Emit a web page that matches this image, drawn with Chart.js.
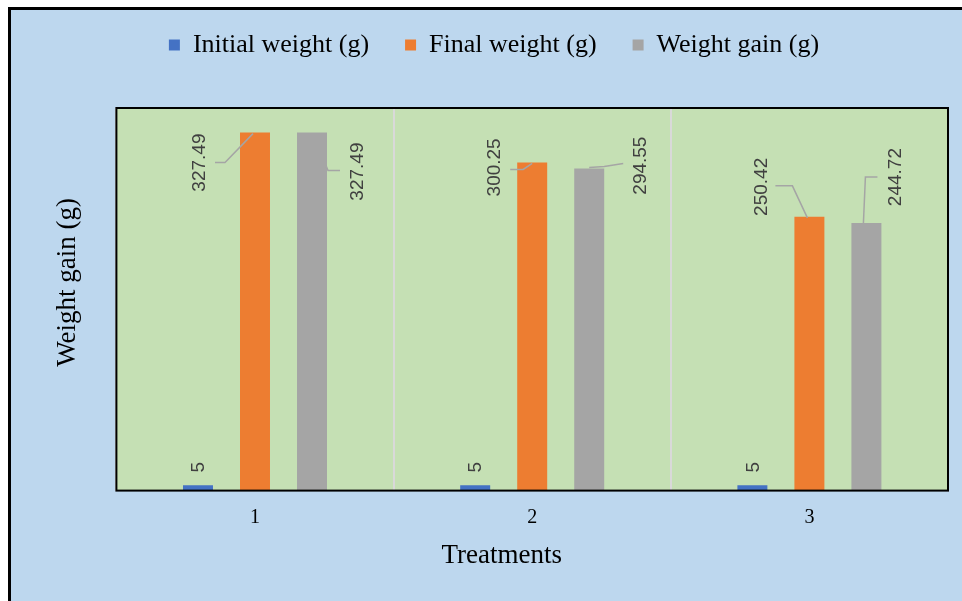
<!DOCTYPE html>
<html>
<head>
<meta charset="utf-8">
<script src="https://cdn.jsdelivr.net/npm/chart.js@4"></script>
<style>
  html, body { margin: 0; padding: 0; background: #ffffff; }
  #wrap { width: 962px; height: 601px; }
</style>
</head>
<body>
<div id="wrap"><canvas id="myChart" width="962" height="601"></canvas></div>
<script>
// Chart values
const treatments = ['1', '2', '3'];
const initialWeight = [5, 5, 5];
const finalWeight = [327.49, 300.25, 250.42];
const weightGain = [327.49, 294.55, 244.72];
const labelText = [
  ['5', '5', '5'],
  ['327.49', '300.25', '250.42'],
  ['327.49', '294.55', '244.72']
];

// Label placement relative to the top centre of each bar (styling only)
const labelOffsets = [
  [[1, -18], [1, -18], [1, -18]],
  [[-55, 30], [-37, 5], [-48, -30]],
  [[46, 39], [52, -3], [29, -46]]
];
const leaderLines = [
  [null, null, null],
  [[[-40, 30], [-30, 30], [-2, 1]], [[-22, 7], [-9, 7], [0, 1]], [[-34, -31], [-17, -31], [-2, 1]]],
  [[[28, 38], [16, 38], [14, 33]], [[34, -5], [15, -2], [0, -1]], [[11, -46], [-1, -46], [-3, 0]]]
];

// Page and plot backgrounds
const backgroundPlugin = {
  id: 'backgrounds',
  beforeDraw(chart) {
    const ctx = chart.ctx;
    const a = chart.chartArea;
    ctx.save();
    ctx.fillStyle = '#ffffff';
    ctx.fillRect(0, 0, chart.width, chart.height);
    ctx.fillStyle = '#BDD7EE';
    ctx.fillRect(9, 8, chart.width, chart.height);
    ctx.strokeStyle = '#000000';
    ctx.lineWidth = 3;
    ctx.beginPath();
    ctx.moveTo(9.5, chart.height);
    ctx.lineTo(9.5, 8.5);
    ctx.lineTo(chart.width, 8.5);
    ctx.stroke();
    ctx.fillStyle = '#C5E0B4';
    ctx.fillRect(a.left, a.top, a.right - a.left, a.bottom - a.top);
    ctx.restore();
  }
};

// Extra room under the legend
const legendSpacer = {
  id: 'legendSpacer',
  beforeInit(chart) {
    const origFit = chart.legend.fit;
    chart.legend.fit = function () {
      origFit.bind(chart.legend)();
      this.height += 40;
    };
  }
};

// Rotated value labels with leader lines, and the plot border
const valueLabels = {
  id: 'valueLabels',
  afterDatasetsDraw(chart) {
    const ctx = chart.ctx;
    ctx.save();
    chart.data.datasets.forEach((ds, i) => {
      const meta = chart.getDatasetMeta(i);
      meta.data.forEach((bar, j) => {
        const line = leaderLines[i][j];
        if (line) {
          ctx.strokeStyle = '#A5A5A5';
          ctx.lineWidth = 1.5;
          ctx.beginPath();
          line.forEach((p, k) => {
            if (k === 0) ctx.moveTo(bar.x + p[0], bar.y + p[1]);
            else ctx.lineTo(bar.x + p[0], bar.y + p[1]);
          });
          ctx.stroke();
        }
        const off = labelOffsets[i][j];
        ctx.save();
        ctx.translate(bar.x + off[0], bar.y + off[1]);
        ctx.rotate(-Math.PI / 2);
        ctx.font = '19px "Liberation Sans", Arial, sans-serif';
        ctx.fillStyle = '#404040';
        ctx.textAlign = 'center';
        ctx.textBaseline = 'middle';
        ctx.fillText(labelText[i][j], 0, 0);
        ctx.restore();
      });
    });
    const a = chart.chartArea;
    ctx.strokeStyle = '#000000';
    ctx.lineWidth = 2;
    ctx.strokeRect(a.left, a.top, a.right - a.left, a.bottom - a.top);
    ctx.restore();
  }
};

const serif = '"Liberation Serif", "Times New Roman", serif';

const data = {
  labels: treatments,
  datasets: [
    { label: 'Initial weight (g)', data: initialWeight, backgroundColor: '#4472C4' },
    { label: 'Final weight (g)', data: finalWeight, backgroundColor: '#ED7D31' },
    { label: 'Weight gain (g)', data: weightGain, backgroundColor: '#A5A5A5' }
  ]
};

const config = {
  type: 'bar',
  data: data,
  options: {
    responsive: false,
    animation: false,
    layout: { padding: { top: -4, left: 40, right: 14, bottom: 8 } },
    datasets: {
      bar: { barPercentage: 0.526, categoryPercentage: 0.617 }
    },
    scales: {
      x: {
        grid: { display: true, offset: true, color: '#D9D9D9', lineWidth: 2, drawTicks: false },
        border: { display: false },
        ticks: { color: '#000000', padding: 15, font: { family: serif, size: 20 } },
        title: {
          display: true,
          text: 'Treatments\u00A0\u00A0\u00A0\u00A0\u00A0\u00A0\u00A0\u00A0\u00A0',
          color: '#000000',
          font: { family: serif, size: 27 },
          padding: { top: -5, bottom: 21 }
        }
      },
      y: {
        min: 0,
        max: 350,
        grid: { display: false, drawTicks: false },
        border: { display: false },
        ticks: { display: false },
        title: {
          display: true,
          text: '\u00A0\u00A0\u00A0\u00A0\u00A0Weight gain (g)',
          color: '#000000',
          font: { family: serif, size: 27 },
          padding: { top: 12, bottom: 32 }
        }
      }
    },
    plugins: {
      legend: {
        position: 'top',
        labels: {
          color: '#000000',
          boxWidth: 11,
          boxHeight: 11,
          padding: 36,
          font: { family: serif, size: 26 }
        }
      },
      tooltip: { enabled: false }
    }
  },
  plugins: [backgroundPlugin, legendSpacer, valueLabels]
};

var ctx = document.getElementById('myChart').getContext('2d');
var myChart = new Chart(ctx, config);
</script>
</body>
</html>
